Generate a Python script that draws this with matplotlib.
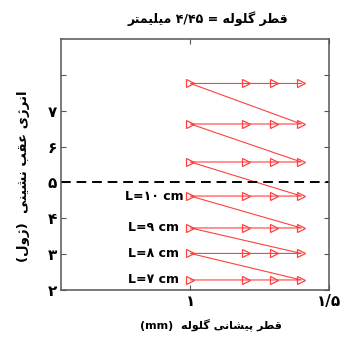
import numpy as np
import matplotlib
matplotlib.use("Agg")
import matplotlib.pyplot as plt

# ---- data ----
tip_diameter = [1.0, 1.2, 1.3, 1.4]            # x, mm
recoil_energy = [                               # one row per barrel length, J
    [2.28, 2.28, 2.28, 2.28],
    [3.02, 3.02, 3.02, 3.02],
    [3.73, 3.73, 3.73, 3.73],
    [4.62, 4.62, 4.62, 4.62],
    [5.57, 5.57, 5.57, 5.57],
    [6.63, 6.63, 6.63, 6.63],
    [7.76, 7.76, 7.76, 7.76],
]
length_labels = ["L=۷ cm", "L=۸ cm", "L=۹ cm", "L=۱۰ cm"]   # bottom four rows
limit_energy = 5.0
yticks = [2, 3, 4, 5, 6, 7, 8]
ytick_labels = ["۲", "۳", "۴", "۵", "۶", "۷", ""]
xticks = [1.0, 1.5]
xtick_labels = ["۱", "۱/۵"]

TITLE = "قطر گلوله = ۴/۴۵ میلیمتر"
XLABEL = "قطر پیشانی گلوله  (mm)"
YLABEL = "انرژی عقب نشینی  (ژول)"

# presentation forms: isolated, final, initial, medial (None -> joins only to the right)
FORMS = {
    "ا": ("\uFE8D", "\uFE8E", None, None),
    "ب": ("\uFE8F", "\uFE90", "\uFE91", "\uFE92"),
    "پ": ("\uFB56", "\uFB57", "\uFB58", "\uFB59"),
    "ت": ("\uFE95", "\uFE96", "\uFE97", "\uFE98"),
    "ر": ("\uFEAD", "\uFEAE", None, None),
    "ژ": ("\uFB8A", "\uFB8B", None, None),
    "ش": ("\uFEB5", "\uFEB6", "\uFEB7", "\uFEB8"),
    "ط": ("\uFEC1", "\uFEC2", "\uFEC3", "\uFEC4"),
    "ع": ("\uFEC9", "\uFECA", "\uFECB", "\uFECC"),
    "ق": ("\uFED5", "\uFED6", "\uFED7", "\uFED8"),
    "گ": ("\uFB92", "\uFB93", "\uFB94", "\uFB95"),
    "ل": ("\uFEDD", "\uFEDE", "\uFEDF", "\uFEE0"),
    "م": ("\uFEE1", "\uFEE2", "\uFEE3", "\uFEE4"),
    "ن": ("\uFEE5", "\uFEE6", "\uFEE7", "\uFEE8"),
    "ه": ("\uFEE9", "\uFEEA", "\uFEEB", "\uFEEC"),
    "و": ("\uFEED", "\uFEEE", None, None),
    "ی": ("\uFBFC", "\uFBFD", "\uFBFE", "\uFBFF"),
}


def shape(word):
    out = []
    for i, ch in enumerate(word):
        if ch not in FORMS:
            out.append(ch)
            continue
        prev = word[i - 1] if i > 0 else None
        nxt = word[i + 1] if i < len(word) - 1 else None
        jp = prev in FORMS and FORMS[prev][2] is not None
        jn = nxt in FORMS and FORMS[ch][2] is not None
        iso, fin, ini, med = FORMS[ch]
        out.append(med if jp and jn else fin if jp else ini if jn else iso)
    return "".join(out)


def rtl(text):
    """visual order of a right-to-left line (no bidi lib available)"""
    mirror = {"(": ")", ")": "("}
    vis = []
    for tok in text.split(" ")[::-1]:
        if any(c in FORMS for c in tok):
            vis.append("".join(mirror.get(c, c) for c in shape(tok)[::-1]))
        else:
            vis.append(tok)
    return " ".join(vis)


plt.rcParams["font.family"] = ["DejaVu Sans"]
plt.rcParams["font.weight"] = "bold"

fig = plt.figure(figsize=(3.46, 3.38), dpi=100)
ax = fig.add_axes([0.1763, 0.142, 0.7747, 0.7426])

xs, ys = [], []
for row in recoil_energy:
    xs += tip_diameter
    ys += row
ax.plot(xs, ys, color="#ff4040", lw=0.8, marker=">", ms=6, mfc="none",
        mec="#ff4040", mew=0.9)

ax.axhline(limit_energy, color="k", lw=1.4, ls=(0, (5, 3)))

for lab, row in zip(length_labels, recoil_energy):
    ax.text(0.868, row[0], lab, ha="center", va="center", fontsize=9,
            fontweight="bold")

ax.set_xlim(0.533, 1.5)
ax.set_ylim(2, 9)
ax.set_xticks(xticks)
ax.set_xticklabels(xtick_labels, fontsize=11, fontweight="bold")
ax.set_yticks(yticks)
ax.set_yticklabels(ytick_labels, fontsize=11, fontweight="bold")
ax.tick_params(direction="in", length=3.5, width=0.8, top=True, right=True,
               color="#555555", pad=3)
for s in ax.spines.values():
    s.set_color("#555555")
    s.set_linewidth(1.1)

ax.set_xlabel(rtl(XLABEL), fontsize=8, fontweight="bold")
ax.xaxis.set_label_coords(0.56, -0.11)
ax.set_ylabel(rtl(YLABEL), fontsize=9.5, fontweight="bold")
ax.yaxis.set_label_coords(-0.115, 0.454)
fig.text(0.60, 0.945, rtl(TITLE), ha="center", va="center", fontsize=9,
         fontweight="bold")

fig.savefig("out.png", dpi=100)
